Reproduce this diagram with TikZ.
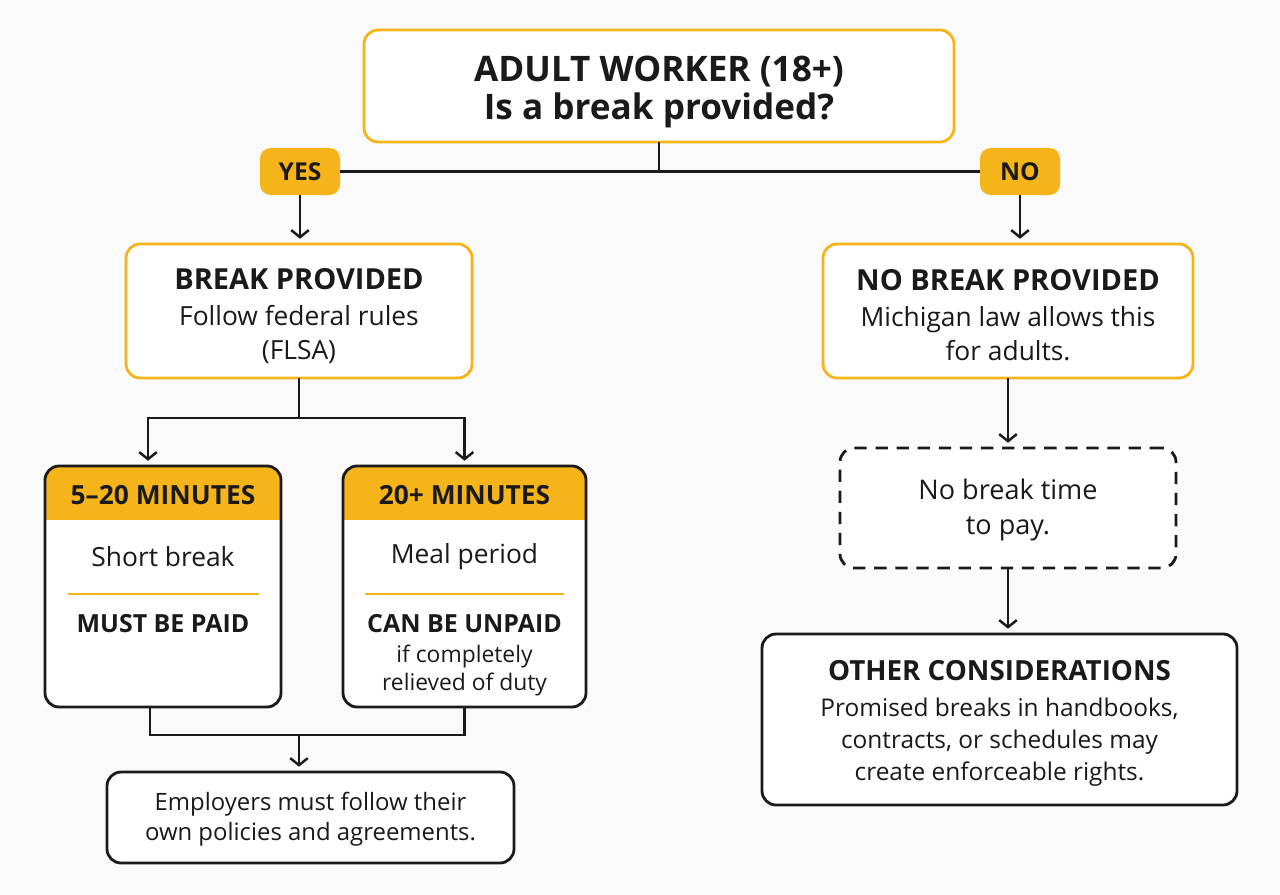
\documentclass[tikz,border=0pt]{standalone}
\usepackage{fontspec}
\setmainfont{Open Sans}
\usetikzlibrary{arrows.meta}

\definecolor{brandyel}{HTML}{F4B41A}
\definecolor{pagebg}{HTML}{FAFAFA}
\definecolor{ink}{HTML}{1A1A1A}

\newcommand{\boxheadfont}{\bfseries\fontsize{16.5}{19}\selectfont}

\tikzset{
  yelbox/.style={draw=brandyel, line width=1.6pt, rounded corners=8pt, fill=white,
    inner sep=0pt, outer sep=0pt},
  blkbox/.style={draw=ink, line width=1.6pt, rounded corners=8pt, fill=white,
    inner sep=0pt, outer sep=0pt},
  tagbox/.style={fill=brandyel, rounded corners=6pt, inner sep=0pt, outer sep=0pt,
    minimum width=1.6cm, minimum height=0.94cm, text=ink,
    font=\bfseries\fontsize{14}{16}\selectfont},
  bodytxt/.style={text=ink, align=center, font=\fontsize{15}{19.4}\selectfont},
  headtxt/.style={text=ink, align=center, font=\bfseries\fontsize{15}{18}\selectfont},
  link/.style={draw=ink, line width=1.4pt},
  arr/.style={link, -{Straight Barb[length=4pt,width=10pt,line width=1.4pt]}, shorten >=3pt},
}

\begin{document}
\begin{tikzpicture}
  \fill[pagebg] (0,0) rectangle (25.6,-17.9);
  \useasboundingbox (0,0) rectangle (25.6,-17.9);

  % Question at the top
  \node[yelbox, minimum width=11.8cm, minimum height=2.24cm] (top) at (13.18,-1.72) {};
  \node[bodytxt, font=\bfseries\fontsize{20}{21.8}\selectfont] (toptxt) at (13.18,-1.84)
    {ADULT WORKER (18+)\\Is a break provided?};

  % Answer tags
  \node[tagbox] (yes) at (6.0,-3.43) {YES};
  \node[tagbox] (no) at (20.4,-3.43) {NO};
  \draw[link] (top.south) -- (top.south |- yes.east);
  \draw[link] (yes.east) -- (no.west);

  % Left branch
  \node[yelbox, minimum width=6.92cm, minimum height=2.68cm] (brk) at (5.98,-6.22) {};
  \node[bodytxt] (brktxt) at (5.98,-6.32)
    {{\boxheadfont BREAK PROVIDED}\\[1pt]Follow federal rules\\(FLSA)};
  \draw[arr] (yes.south) -- (yes.south |- brk.north);

  % Right branch
  \node[yelbox, minimum width=7.4cm, minimum height=2.68cm] (nobrk) at (20.16,-6.22) {};
  \node[bodytxt] (nobrktxt) at (20.16,-6.3)
    {{\boxheadfont NO BREAK PROVIDED}\\[1pt]Michigan law allows this\\for adults.};
  \draw[arr] (no.south) -- (no.south |- nobrk.north);

  % Break length boxes
  \node[fill=white, minimum width=4.72cm, minimum height=4.82cm, inner sep=0pt, outer sep=0pt]
    (short) at (3.26,-11.73) {};
  \node[fill=white, minimum width=4.86cm, minimum height=4.82cm, inner sep=0pt, outer sep=0pt]
    (meal) at (9.29,-11.73) {};
  \foreach \bx in {short, meal} {
    \begin{scope}
      \clip[rounded corners=8pt] (\bx.south west) rectangle (\bx.north east);
      \fill[brandyel] (\bx.north west) rectangle ([yshift=-1.08cm]\bx.north east);
    \end{scope}
    \draw[ink, line width=1.6pt, rounded corners=8pt] (\bx.south west) rectangle (\bx.north east);
  }

  \node[headtxt] (shorthd) at (3.26,-9.9) {5--20 MINUTES};
  \node[bodytxt] (shortbd) at (3.26,-11.14) {Short break};
  \draw[brandyel, line width=1.3pt] (1.36,-11.88) -- (5.18,-11.88);
  \node[headtxt, font=\bfseries\fontsize{14.2}{17}\selectfont] (shortpay) at (3.26,-12.48) {MUST BE PAID};

  \node[headtxt] (mealhd) at (9.29,-9.9) {20+ MINUTES};
  \node[bodytxt] (mealbd) at (9.29,-11.14) {Meal period};
  \draw[brandyel, line width=1.3pt] (7.3,-11.88) -- (11.28,-11.88);
  \node[headtxt, font=\bfseries\fontsize{14.2}{17}\selectfont] (mealpay) at (9.29,-12.48) {CAN BE UNPAID};
  \node[bodytxt, font=\fontsize{13}{16.4}\selectfont] (mealnote) at (9.29,-13.41)
    {if completely\\relieved of duty};

  \draw[link] (brk.south) -- ++(0,-0.8) coordinate (fork);
  \draw[arr] (fork) -| ([xshift=-0.3cm]short.north);
  \draw[arr] (fork) -| (meal.north);

  % Bottom note on the left
  \node[blkbox, minimum width=8.14cm, minimum height=1.82cm] (emp) at (6.21,-16.35) {};
  \node[bodytxt, font=\fontsize{13.6}{17}\selectfont] (emptxt) at (6.21,-16.38)
    {Employers must follow their\\own policies and agreements.};
  \draw[link] ([xshift=-0.26cm]short.south) -- ++(0,-0.56) coordinate (join)
    -- (join -| meal.south) -- (meal.south);
  \draw[arr] (join -| brk.south) -- (brk.south |- emp.north);

  % Right column
  \node[blkbox, dashed, dash pattern=on 7pt off 5pt, minimum width=6.72cm, minimum height=2.4cm]
    (nopay) at (20.16,-10.16) {};
  \node[bodytxt, font=\fontsize{15.4}{19.4}\selectfont] (nopaytxt) at (20.16,-10.2)
    {No break time\\to pay.};
  \draw[arr] (nobrk.south) -- (nopay.north);

  \node[blkbox, minimum width=9.5cm, minimum height=3.42cm] (other) at (19.99,-14.39) {};
  \node[bodytxt, font=\fontsize{13.9}{18.3}\selectfont] (othertxt) at (19.99,-14.47)
    {{\bfseries\fontsize{15.8}{19}\selectfont OTHER CONSIDERATIONS}\\[2pt]Promised breaks in handbooks,\\contracts, or schedules may\\create enforceable rights.};
  \draw[arr] (nopay.south) -- (nopay.south |- other.north);
\end{tikzpicture}
\end{document}
